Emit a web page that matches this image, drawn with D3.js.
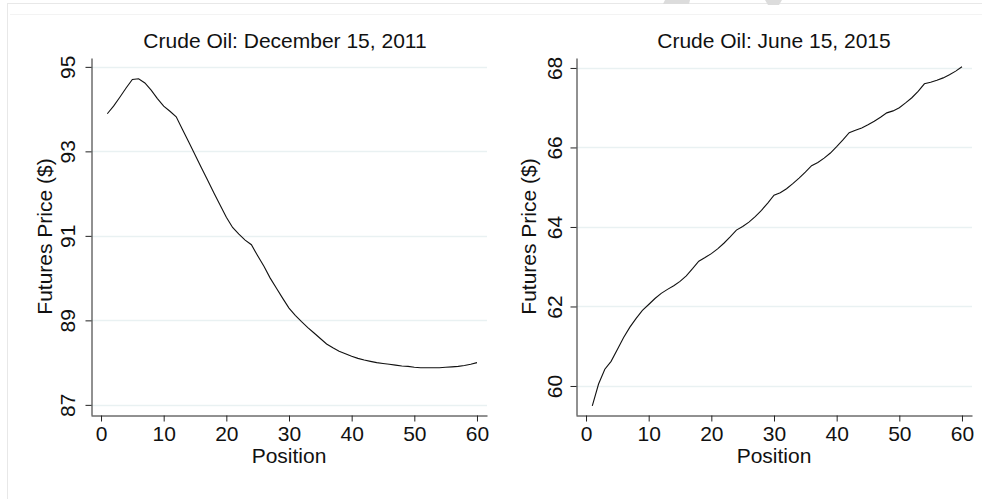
<!DOCTYPE html>
<html>
<head>
<meta charset="utf-8">
<script src="https://cdn.jsdelivr.net/npm/d3@7"></script>
<style>
  html, body { margin: 0; padding: 0; background: #fff; }
  svg { display: block; font-family: "Liberation Sans", Arial, Helvetica, sans-serif; }
</style>
</head>
<body>
<svg id="chart" width="982" height="499"></svg>
<script>
// ---- data ----
const positions = d3.range(1, 61);

const dec2011 = [
  93.89, 94.07, 94.28, 94.50, 94.70, 94.72, 94.62, 94.45, 94.25, 94.07,
  93.95, 93.82, 93.52, 93.22, 92.92, 92.62, 92.32, 92.02, 91.73, 91.44,
  91.20, 91.04, 90.90, 90.79, 90.53, 90.28, 90.00, 89.76, 89.52, 89.29,
  89.12, 88.97, 88.83, 88.70, 88.57, 88.44, 88.35, 88.27, 88.21, 88.15,
  88.10, 88.06, 88.03, 88.00, 87.98, 87.96, 87.94, 87.92, 87.91, 87.89,
  87.88, 87.88, 87.88, 87.88, 87.89, 87.90, 87.91, 87.93, 87.96, 88.00
];

const jun2015 = [
  59.50, 60.05, 60.42, 60.62, 60.92, 61.22, 61.48, 61.70, 61.90, 62.05,
  62.20, 62.33, 62.43, 62.52, 62.63, 62.77, 62.95, 63.14, 63.23, 63.33,
  63.45, 63.59, 63.75, 63.92, 64.01, 64.12, 64.26, 64.42, 64.60, 64.80,
  64.86, 64.96, 65.09, 65.23, 65.38, 65.54, 65.62, 65.73, 65.86, 66.02,
  66.19, 66.37, 66.43, 66.49, 66.57, 66.66, 66.76, 66.87, 66.92, 67.00,
  67.12, 67.25, 67.41, 67.60, 67.64, 67.69, 67.75, 67.83, 67.92, 68.03
];

const xTicks = [0, 10, 20, 30, 40, 50, 60];
const yTicksLeft = [87, 89, 91, 93, 95];
const yTicksRight = [60, 62, 64, 66, 68];

const titles = ["Crude Oil: December 15, 2011", "Crude Oil: June 15, 2015"];
const xLabel = "Position";
const yLabel = "Futures Price ($)";

// ---- layout ----
const svg = d3.select("#chart");
const FONT = 21;

// faint outer frame
svg.append("rect").attr("x", 7.5).attr("y", 3.5).attr("width", 990).attr("height", 510)
  .attr("fill", "none").attr("stroke", "#e8e8e8").attr("stroke-width", 1);
svg.append("line").attr("x1", 10).attr("x2", 982).attr("y1", 14.5).attr("y2", 14.5)
  .attr("stroke", "#f3f3f3").attr("stroke-width", 1);
// watermark fragments at top edge
svg.append("polygon").attr("points", "663,4 689,4 690,0 665,0").attr("fill", "#dcdcdc");
svg.append("polygon").attr("points", "765,0 782,0 779,5 768,5").attr("fill", "#dcdcdc");

const panels = [
  { values: dec2011, yTicks: yTicksLeft, yDomain: [86.76, 95.21], left: 91, right: 487,
    xDomain: [-1.6, 61.6], title: titles[0], titleX: 285, tickLabOff: -17, yTitleOff: -39 },
  { values: jun2015, yTicks: yTicksRight, yDomain: [59.27, 68.25], left: 576, right: 972,
    xDomain: [-1.6, 61.6], title: titles[1], titleX: 774, tickLabOff: -15, yTitleOff: -40 }
];

const plotTop = 58, plotBottom = 415;

panels.forEach(p => {
  const x = d3.scaleLinear().domain(p.xDomain).range([p.left, p.right]);
  const y = d3.scaleLinear().domain(p.yDomain).range([plotBottom, plotTop]);
  const g = svg.append("g");

  // grid lines
  g.append("g").selectAll("line").data(p.yTicks).join("line")
    .attr("x1", p.left).attr("x2", p.right)
    .attr("y1", d => Math.round(y(d)) + 0.5).attr("y2", d => Math.round(y(d)) + 0.5)
    .attr("stroke", "#e9f1f2").attr("stroke-width", 1.3);

  // y axis
  const ya = g.append("g").attr("transform", `translate(${p.left + 0.5},0)`)
    .call(d3.axisLeft(y).tickValues(p.yTicks).tickSize(6).tickSizeOuter(0).tickFormat(d3.format("d")));
  ya.select(".domain").attr("stroke", "#222");
  ya.selectAll(".tick line").attr("stroke", "#222");
  ya.selectAll(".tick text")
    .attr("transform", "rotate(-90)")
    .attr("x", 0).attr("y", p.tickLabOff).attr("dy", 0)
    .attr("text-anchor", "middle")
    .attr("font-size", FONT).attr("font-family", null).attr("fill", "#111");

  // x axis
  const xa = g.append("g").attr("transform", `translate(0,${plotBottom + 0.5})`)
    .call(d3.axisBottom(x).tickValues(xTicks).tickSize(6).tickSizeOuter(0).tickFormat(d3.format("d")));
  xa.select(".domain").attr("stroke", "#222");
  xa.selectAll(".tick line").attr("stroke", "#222");
  xa.selectAll(".tick text")
    .attr("y", 25).attr("dy", 0)
    .attr("font-size", FONT).attr("font-family", null).attr("fill", "#111");

  // line
  const line = d3.line().x((d, i) => x(positions[i])).y(d => y(d));
  g.append("path").datum(p.values)
    .attr("d", line).attr("fill", "none").attr("stroke", "#111").attr("stroke-width", 1.1);

  // title
  g.append("text").attr("x", p.titleX).attr("y", 48)
    .attr("text-anchor", "middle").attr("font-size", FONT).attr("fill", "#111").text(p.title);

  // x label
  g.append("text").attr("x", (p.left + p.right) / 2).attr("y", 463)
    .attr("text-anchor", "middle").attr("font-size", FONT).attr("fill", "#111").text(xLabel);

  // y label
  g.append("text")
    .attr("transform", `translate(${p.left + p.yTitleOff},${(plotTop + plotBottom) / 2}) rotate(-90)`)
    .attr("text-anchor", "middle").attr("font-size", FONT).attr("fill", "#111").text(yLabel);
});
</script>
</body>
</html>
